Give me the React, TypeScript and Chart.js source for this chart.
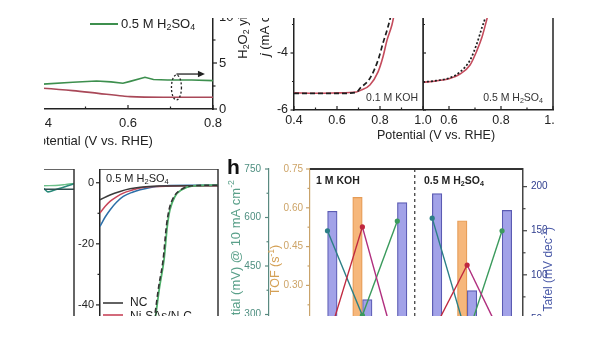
import React, { useEffect, useRef } from "react";
import { Chart, registerables } from "chart.js";

Chart.register(...registerables);

const FONT = '"Liberation Sans", Arial, Helvetica, sans-serif';
Chart.defaults.font.family = FONT;
Chart.defaults.color = "#222";

// ---------- top-left panel: RRDE H2O2 yield (right axis) ----------
const rrdePotentialAcid = [0.3, 0.4, 0.47, 0.526, 0.56, 0.588, 0.605, 0.64, 0.66, 0.693, 0.75, 0.8];
const h2o2YieldAcid = [2.5, 2.7, 2.9, 3.04, 2.95, 2.8, 3.0, 3.45, 3.2, 3.15, 3.15, 3.08];
const rrdePotentialAlk = [0.3, 0.4, 0.47, 0.53, 0.588, 0.605, 0.683, 0.8];
const h2o2YieldAlk = [2.5, 2.25, 2.0, 1.7, 1.41, 1.34, 1.27, 1.27];
const rrdePotentialTicks = [0.2, 0.4, 0.6, 0.8];
const rrdePotentialMinor = [0.3, 0.5, 0.7];
const h2o2Ticks = [0, 5, 10, 15, 20];
const h2o2Minor = [2.5, 7.5, 12.5, 17.5];

// ---------- top-middle: ORR 0.1 M KOH ----------
const orrKohPotentialNi = [0.4, 0.5, 0.6, 0.69, 0.707, 0.753, 0.791, 0.814, 0.833, 0.856, 0.87, 0.89];
const orrKohCurrentNi = [-5.4, -5.41, -5.4, -5.37, -5.32, -5.12, -4.66, -4.13, -3.54, -3.0, -2.5, -1.8];
const orrKohPotentialPt = [0.4, 0.5, 0.6, 0.69, 0.707, 0.753, 0.791, 0.814, 0.833, 0.847, 0.86, 0.88];
const orrKohCurrentPt = [-5.42, -5.42, -5.42, -5.38, -5.24, -4.89, -4.25, -3.65, -3.19, -2.8, -2.3, -1.5];
const orrPotentialTicksB = [0.4, 0.6, 0.8, 1.0];
const orrPotentialMinorB = [0.5, 0.7, 0.9];
const currentTicks = [-6, -4, -2, 0];
const currentMinor = [-5, -3, -1];

// ---------- top-right: ORR 0.5 M H2SO4 ----------
const orrAcidPotentialNi = [0.5, 0.55, 0.6, 0.642, 0.681, 0.708, 0.727, 0.746, 0.76, 0.78];
const orrAcidCurrentNi = [-5.03, -4.98, -4.9, -4.74, -4.42, -3.9, -3.44, -2.8, -2.3, -1.5];
const orrAcidPotentialPt = [0.5, 0.55, 0.6, 0.642, 0.681, 0.708, 0.727, 0.738, 0.75, 0.77];
const orrAcidCurrentPt = [-5.02, -4.97, -4.88, -4.67, -4.25, -3.65, -3.1, -2.8, -2.3, -1.5];
const orrPotentialTicksC = [0.6, 0.8, 1.0];
const orrPotentialMinorC = [0.7, 0.9];

// ---------- bottom-left (cropped) HER panel ----------
const herKohPotentialNC = [-0.3, -0.1, 0];
const herKohCurrentNC = [-2.3, -2.1, -2.1];
const herKohPotentialA = [-0.3, -0.1, -0.085, -0.07, -0.045, -0.02, 0];
const herKohCurrentA = [-6, -1.8, -3.0, -2.6, -1.8, -1.0, -0.3];
const herKohPotentialB = [-0.3, -0.1, -0.06, -0.03, 0];
const herKohCurrentB = [-3, -1.0, -0.9, -0.6, -0.2];

// ---------- bottom: HER 0.5 M H2SO4 ----------
const herAcidPotentialNC = [-0.4, -0.366, -0.332, -0.298, -0.264, -0.2, -0.1, 0];
const herAcidCurrentNC = [-5.6, -4.0, -2.85, -2.0, -1.5, -1.1, -1.0, -1.0];
const herAcidPotentialNi = [-0.4, -0.383, -0.366, -0.344, -0.321, -0.29, -0.264, -0.2, -0.1, 0];
const herAcidCurrentNi = [-9.9, -7.8, -6.1, -4.6, -3.4, -2.4, -1.7, -1.2, -1.0, -1.0];
const herAcidPotentialThird = [-0.4, -0.383, -0.366, -0.344, -0.321, -0.29, -0.264, -0.208, -0.1, 0];
const herAcidCurrentThird = [-14.3, -11.3, -8.9, -6.4, -4.5, -3.1, -2.3, -1.2, -0.8, -0.8];
const herAcidPotentialPt = [-0.24, -0.228, -0.2136, -0.198, -0.183, -0.172, -0.163, -0.146, -0.123, -0.085, 0];
const herAcidCurrentPt = [-58, -52, -44.9, -34, -25.2, -14.3, -8.9, -4.5, -2.3, -1.0, -0.8];
const herAcidPotentialPtRef = [-0.243, -0.231, -0.2166, -0.201, -0.186, -0.175, -0.166, -0.149, -0.126, -0.088, 0];
const herAcidCurrentPtRef = [-58, -52, -44.9, -34, -25.2, -14.3, -8.9, -4.5, -2.3, -1.0, -0.8];
const herCurrentTicks = [0, -20, -40, -60];
const herCurrentMinor = [-10, -30, -50];

// ---------- panel h ----------
const hSamples = ["NC", "Ni-SAs/N-C", "Pt/C", "NC", "Ni-SAs/N-C", "Pt/C"];
const hSlots = [1, 2, 3, 4, 5, 6];
const hTafel = [172, 72, 182, 192, 82, 173];
const hTof = [null, 0.64, null, null, 0.55, null];
const hOverpotential = [559, 297, 589, 598, 230, 559];
const hSecond = [217, 571, 181, 242, 453, 230];
const overTicks = [750, 600, 450, 300, 150];
const overMinor = [675, 525, 375, 225];
const tofTicks = [0.75, 0.6, 0.45, 0.3, 0.15, 0];
const tofMinor = [0.675, 0.525, 0.375, 0.225, 0.075];
const tafelTicks = [200, 150, 100, 50, 0];
const tafelMinor = [175, 125, 75, 25];

// ---------- colours ----------
const GREEN_A = "#3d8f4e";
const RED_A = "#a94858";
const RED_B = "#c44b5c";
const NC_COL = "#3b3b3b";
const NI_COL = "#c8455a";
const BLUE_E = "#2d6fa8";
const PT_COL = "#4fb06a";
const TEAL = "#2b7f86";
const GREEN_F = "#3a9a5c";
const CRIMSON = "#c0283f";
const MAGENTA = "#b02e7e";
const OVER_COL = "#4e8f80";
const TOF_COL = "#cda467";
const TAFEL_COL = "#2f3d8e";

type Box = { x: number; y: number; w: number; h: number };
const BOX_A: Box = { x: -42, y: -75, w: 295, h: 225 };
const BOX_B: Box = { x: 255, y: -61, w: 300, h: 211 };
const BOX_C: Box = { x: 423, y: -61, w: 140, h: 211 };
const BOX_D: Box = { x: -80, y: 169, w: 156, h: 197 };
const BOX_E: Box = { x: 76, y: 169, w: 146, h: 197 };
const BOX_F: Box = { x: 220, y: 150, w: 340, h: 217 };

const xy = (xs: number[], ys: (number | null)[]) => xs.map((x, i) => ({ x, y: ys[i] }));
const f1 = (v: number) => v.toFixed(1);
const f2 = (v: number) => v.toFixed(2);

type Seg = { t: string; s?: "sub" | "sup"; i?: boolean };
function parse(str: string): Seg[] {
  const out: Seg[] = [];
  const re = /_\{([^}]*)\}|\^\{([^}]*)\}|\$([^$]*)\$/g;
  let last = 0;
  let m: RegExpExecArray | null;
  while ((m = re.exec(str))) {
    if (m.index > last) out.push({ t: str.slice(last, m.index) });
    if (m[1] !== undefined) out.push({ t: m[1], s: "sub" });
    else if (m[2] !== undefined) out.push({ t: m[2], s: "sup" });
    else out.push({ t: m[3], i: true });
    last = re.lastIndex;
  }
  if (last < str.length) out.push({ t: str.slice(last) });
  return out;
}

function rich(ctx: CanvasRenderingContext2D, str: string, x: number, y: number, size: number, color: string,
  align: "left" | "center" | "right" = "left", rot = 0, weight = "normal") {
  const segs = parse(str);
  ctx.save();
  ctx.translate(x, y);
  if (rot) ctx.rotate(rot);
  ctx.fillStyle = color;
  ctx.textBaseline = "middle";
  ctx.textAlign = "left";
  const fontFor = (sg: Seg) => `${sg.i ? "italic " : ""}${weight} ${sg.s ? size * 0.68 : size}px ${FONT}`;
  let total = 0;
  const widths = segs.map((sg) => {
    ctx.font = fontFor(sg);
    const w = ctx.measureText(sg.t).width;
    total += w;
    return w;
  });
  let cx = align === "left" ? 0 : align === "center" ? -total / 2 : -total;
  segs.forEach((sg, k) => {
    ctx.font = fontFor(sg);
    const dy = sg.s === "sub" ? size * 0.3 : sg.s === "sup" ? -size * 0.33 : 0;
    ctx.fillText(sg.t, cx, dy);
    cx += widths[k];
  });
  ctx.restore();
}

function seg(ctx: CanvasRenderingContext2D, x1: number, y1: number, x2: number, y2: number, color: string, w: number, dash: number[] = []) {
  ctx.save();
  ctx.strokeStyle = color;
  ctx.lineWidth = w;
  ctx.setLineDash(dash);
  ctx.beginPath();
  ctx.moveTo(x1, y1);
  ctx.lineTo(x2, y2);
  ctx.stroke();
  ctx.restore();
}

const fixSize = (size: number) => (s: any) => {
  if (s.isHorizontal()) s.height = size;
  else s.width = size;
  s.paddingLeft = 0;
  s.paddingRight = 0;
  s.paddingTop = 0;
  s.paddingBottom = 0;
};
const useTicks = (vals: number[]) => (s: any) => {
  s.ticks = vals.map((v) => ({ value: v }));
};

function linAxis(o: {
  min: number; max: number; position: string; size?: number; ticks?: number[]; fmt?: (v: number) => string;
  pad?: number; font?: number; color?: string; border?: string; bw?: number; display?: boolean; weight?: number;
}) {
  return {
    type: "linear",
    position: o.position,
    min: o.min,
    max: o.max,
    display: o.display ?? true,
    weight: o.weight ?? 0,
    offset: false,
    afterFit: fixSize(o.size ?? 0),
    afterBuildTicks: useTicks(o.ticks ?? []),
    ticks: {
      padding: o.pad ?? 4,
      color: o.color ?? "#222",
      font: { size: o.font ?? 12, family: FONT },
      autoSkip: false,
      maxRotation: 0,
      minRotation: 0,
      callback: (v: number) => (o.fmt ? o.fmt(v) : String(v)),
    },
    grid: { display: false, drawTicks: false },
    border: { display: o.border !== "none", color: o.border && o.border !== "none" ? o.border : "#222", width: o.bw ?? 1.5 },
  };
}

type TickSpec = { id: string; major: number[]; minor?: number[]; len?: number; mlen?: number; inward?: boolean; color?: string; lw?: number; at?: "left" | "right" };

function drawTicks(chart: any, specs: TickSpec[]) {
  const ctx = chart.ctx as CanvasRenderingContext2D;
  const ca = chart.chartArea;
  specs.forEach((sp) => {
    const s = chart.scales[sp.id];
    if (!s) return;
    const one = (v: number, len: number) => {
      const p = s.getPixelForValue(v);
      if (s.isHorizontal()) {
        if (p < ca.left - 1 || p > ca.right + 1) return;
        const y0 = ca.bottom;
        seg(ctx, p, y0, p, y0 + (sp.inward ? -len : len), sp.color ?? "#222", sp.lw ?? 1.2);
      } else {
        if (p < ca.top - 1 || p > ca.bottom + 1) return;
        const side = sp.at ?? s.position;
        const x0 = sp.at ? (sp.at === "left" ? ca.left : ca.right) : side === "left" ? s.right : s.left;
        const out = side === "left" ? -1 : 1;
        const d = (sp.inward ? -out : out) * len;
        seg(ctx, x0, p, x0 + d, p, sp.color ?? "#222", sp.lw ?? 1.2);
      }
    };
    sp.major.forEach((v) => one(v, sp.len ?? 4));
    (sp.minor ?? []).forEach((v) => one(v, sp.mlen ?? 2.5));
  });
}

function extras(box: Box, specs: TickSpec[], draw: (chart: any, ctx: CanvasRenderingContext2D, pg: (x: number, y: number) => [number, number]) => void) {
  return {
    id: "extras",
    afterDraw(chart: any) {
      drawTicks(chart, specs);
      const pg = (x: number, y: number): [number, number] => [x - box.x, y - box.y];
      draw(chart, chart.ctx, pg);
    },
  };
}

function baseOptions(scales: any, padding: any = 0) {
  return {
    responsive: false,
    animation: false,
    devicePixelRatio: 1,
    events: [],
    layout: { padding },
    plugins: { legend: { display: false }, tooltip: { enabled: false }, title: { display: false } },
    elements: { point: { radius: 0 } },
    scales,
  };
}

const lineDs = (data: any, color: string, width = 1.6, dash: number[] = [], extra: any = {}) => ({
  type: "line",
  data,
  borderColor: color,
  backgroundColor: color,
  borderWidth: width,
  borderDash: dash,
  pointRadius: 0,
  fill: false,
  cubicInterpolationMode: "monotone",
  ...extra,
});

function makeA() {
  return {
    type: "line",
    data: {
      datasets: [
        lineDs(xy(rrdePotentialAcid, h2o2YieldAcid), GREEN_A, 1.6, [], { cubicInterpolationMode: "default", tension: 0 }),
        lineDs(xy(rrdePotentialAlk, h2o2YieldAlk), RED_A, 1.6),
      ],
    },
    options: baseOptions({
      x: linAxis({ min: 0.2, max: 0.8, position: "bottom", size: 41, ticks: rrdePotentialTicks, fmt: f1, pad: 7, font: 13 }),
      y: linAxis({ min: 0, max: 20, position: "right", size: 40, ticks: h2o2Ticks, pad: 6, font: 13 }),
    }),
    plugins: [
      extras(BOX_A, [
        { id: "x", major: rrdePotentialTicks, minor: rrdePotentialMinor, inward: true },
        { id: "y", major: h2o2Ticks, minor: h2o2Minor },
      ], (chart, ctx, pg) => {
        const sx = chart.scales.x, sy = chart.scales.y;
        const [lx, ly] = pg(90, 24);
        seg(ctx, lx, ly, lx + 28, ly, GREEN_A, 2);
        rich(ctx, "0.5 M H_{2}SO_{4}", lx + 31, ly, 13, "#222");
        const ex = sx.getPixelForValue(0.714), ey = sy.getPixelForValue(2.34);
        ctx.save();
        ctx.setLineDash([2, 2]);
        ctx.strokeStyle = "#222";
        ctx.lineWidth = 1.3;
        ctx.beginPath();
        ctx.ellipse(ex, ey, 5, 12.5, 0, 0, Math.PI * 2);
        ctx.stroke();
        ctx.restore();
        const ax0 = sx.getPixelForValue(0.714), ax1 = sx.getPixelForValue(0.781), ay = sy.getPixelForValue(3.8);
        seg(ctx, ax0, ay, ax1 - 5, ay, "#222", 1.3);
        ctx.save();
        ctx.fillStyle = "#222";
        ctx.beginPath();
        ctx.moveTo(ax1, ay);
        ctx.lineTo(ax1 - 7, ay - 3.2);
        ctx.lineTo(ax1 - 7, ay + 3.2);
        ctx.closePath();
        ctx.fill();
        ctx.restore();
        const [tx, ty] = pg(91.5, 141);
        rich(ctx, "Potential (V vs. RHE)", tx, ty, 13, "#222", "center");
        const [rx, ry] = pg(243, 17);
        rich(ctx, "H_{2}O_{2} yield (%)", rx, ry, 13, "#222", "center", -Math.PI / 2);
      }),
    ],
  };
}

function makeB() {
  return {
    type: "line",
    data: {
      datasets: [
        lineDs(xy(orrKohPotentialPt, orrKohCurrentPt), "#1e1e1e", 1.7, [5, 3]),
        lineDs(xy(orrKohPotentialNi, orrKohCurrentNi), RED_B, 1.6),
      ],
    },
    options: baseOptions({
      x: linAxis({ min: 0.4, max: 1.0, position: "bottom", size: 40, ticks: orrPotentialTicksB, fmt: f1, pad: 3, font: 12.5 }),
      y: linAxis({ min: -6, max: 0, position: "left", size: 39, ticks: currentTicks, pad: 6, font: 12.5 }),
    }, { right: 132 }),
    plugins: [
      extras(BOX_B, [
        { id: "x", major: orrPotentialTicksB, minor: orrPotentialMinorB, inward: true },
        { id: "y", major: currentTicks, minor: currentMinor, len: 3.5, mlen: 2 },
      ], (chart, ctx, pg) => {
        const ca = chart.chartArea;
        seg(ctx, ca.right, ca.top, ca.right, ca.bottom, "#222", 1.5);
        const [yx, yy] = pg(265, 24.5);
        rich(ctx, "$j$ (mA cm^{-2})", yx, yy, 13, "#222", "center", -Math.PI / 2);
        const [tx, ty] = pg(436, 136);
        rich(ctx, "Potential (V vs. RHE)", tx, ty, 12.5, "#222", "center");
        const [kx, ky] = pg(418, 98);
        rich(ctx, "0.1 M KOH", kx, ky, 10.5, "#333", "right");
      }),
    ],
  };
}

function makeC() {
  return {
    type: "line",
    data: {
      datasets: [
        lineDs(xy(orrAcidPotentialPt, orrAcidCurrentPt), "#1e1e1e", 1.7, [2, 2]),
        lineDs(xy(orrAcidPotentialNi, orrAcidCurrentNi), RED_B, 1.6),
      ],
    },
    options: baseOptions({
      x: linAxis({ min: 0.5, max: 1.0, position: "bottom", size: 40, ticks: orrPotentialTicksC, fmt: f1, pad: 3, font: 12.5 }),
      y: linAxis({ min: -6, max: 0, position: "left", display: false }),
    }, { right: 10 }),
    plugins: [
      extras(BOX_C, [
        { id: "x", major: orrPotentialTicksC, minor: orrPotentialMinorC, inward: true },
        { id: "y", major: currentTicks, minor: currentMinor, inward: true, at: "left", len: 3, mlen: 2 },
      ], (chart, ctx, pg) => {
        const ca = chart.chartArea;
        seg(ctx, ca.left, ca.top, ca.left, ca.bottom, "#222", 1.5);
        seg(ctx, ca.right, ca.top, ca.right, ca.bottom, "#222", 1.5);
        const [kx, ky] = pg(543, 98);
        rich(ctx, "0.5 M H_{2}SO_{4}", kx, ky, 10.5, "#333", "right");
      }),
    ],
  };
}

function makeD() {
  return {
    type: "line",
    data: {
      datasets: [
        lineDs(xy(herKohPotentialNC, herKohCurrentNC), "#2f4f4f", 1.5),
        lineDs(xy(herKohPotentialA, herKohCurrentA), "#2a8a7a", 1.6),
        lineDs(xy(herKohPotentialB, herKohCurrentB), "#6cc08a", 1.4),
      ],
    },
    options: baseOptions({
      x: linAxis({ min: -0.5, max: 0, position: "bottom", display: false }),
      y: linAxis({ min: -60, max: 4.5, position: "left", display: false }),
    }, { right: 2 }),
    plugins: [
      extras(BOX_D, [], (chart, ctx) => {
        const ca = chart.chartArea;
        seg(ctx, ca.left, ca.top, ca.right, ca.top, "#333", 1.5);
        seg(ctx, ca.right, ca.top, ca.right, ca.bottom, "#333", 1.5);
      }),
    ],
  };
}

function makeE() {
  return {
    type: "line",
    data: {
      datasets: [
        lineDs(xy(herAcidPotentialPtRef, herAcidCurrentPtRef), "#333", 1.6, [5, 3]),
        lineDs(xy(herAcidPotentialPt, herAcidCurrentPt), PT_COL, 1.8),
        lineDs(xy(herAcidPotentialNC, herAcidCurrentNC), NC_COL, 1.5),
        lineDs(xy(herAcidPotentialNi, herAcidCurrentNi), NI_COL, 1.5),
        lineDs(xy(herAcidPotentialThird, herAcidCurrentThird), BLUE_E, 1.5),
      ],
    },
    options: baseOptions({
      x: linAxis({ min: -0.4, max: 0, position: "bottom", display: false }),
      y: linAxis({ min: -60, max: 4.5, position: "left", size: 24, ticks: herCurrentTicks, pad: 6, font: 11 }),
    }, { right: 4 }),
    plugins: [
      extras(BOX_E, [
        { id: "y", major: herCurrentTicks, minor: herCurrentMinor, len: 4, mlen: 2.5 },
      ], (chart, ctx, pg) => {
        const ca = chart.chartArea;
        seg(ctx, ca.left, ca.top, ca.right, ca.top, "#333", 1.5);
        seg(ctx, ca.right, ca.top, ca.right, ca.bottom, "#333", 1.5);
        const [lx, ly] = pg(106, 179);
        rich(ctx, "0.5 M H_{2}SO_{4}", lx, ly, 11, "#222");
        const [ax, ay] = pg(103, 303);
        seg(ctx, ax, ay, ax + 20, ay, NC_COL, 1.6);
        rich(ctx, "NC", ax + 27, ay, 12, "#222");
        const [bx, by] = pg(103, 315);
        seg(ctx, bx, by, bx + 20, by, NI_COL, 1.6);
        rich(ctx, "Ni-SAs/N-C", bx + 27, by + 2, 12, "#222");
      }),
    ],
  };
}

function makeF() {
  const tafelBars = hSlots.map((s, i) => ({ x: s + 0.14, y: hTafel[i] }));
  const tofBars = hSlots.map((s, i) => ({ x: s - 0.14, y: hTof[i] }));
  return {
    type: "bar",
    data: {
      datasets: [
        {
          type: "line",
          yAxisID: "yOver",
          data: xy(hSlots, hSecond),
          borderWidth: 1.4,
          borderColor: CRIMSON,
          pointRadius: 2.6,
          pointBorderWidth: 0,
          pointBackgroundColor: CRIMSON,
          segment: { borderColor: (c: any) => (c.p0DataIndex === 2 ? "rgba(0,0,0,0)" : c.p0DataIndex % 3 === 0 ? CRIMSON : MAGENTA) },
        },
        {
          type: "line",
          yAxisID: "yOver",
          data: xy(hSlots, hOverpotential),
          borderWidth: 1.4,
          borderColor: TEAL,
          pointRadius: 2.6,
          pointBorderWidth: 0,
          pointBackgroundColor: [TEAL, GREEN_F, GREEN_F, TEAL, GREEN_F, GREEN_F],
          segment: { borderColor: (c: any) => (c.p0DataIndex === 2 ? "rgba(0,0,0,0)" : c.p0DataIndex % 3 === 0 ? TEAL : GREEN_F) },
        },
        {
          type: "bar",
          yAxisID: "yTOF",
          data: tofBars,
          grouped: false,
          barPercentage: 1,
          categoryPercentage: 1,
          maxBarThickness: 9.5,
          backgroundColor: "#f6b77b",
          borderColor: "#e59b55",
          borderWidth: 1.2,
        },
        {
          type: "bar",
          yAxisID: "yTafel",
          data: tafelBars,
          grouped: false,
          barPercentage: 1,
          categoryPercentage: 1,
          maxBarThickness: 9.5,
          backgroundColor: "#a2a2e8",
          borderColor: "#5b5bb3",
          borderWidth: 1.2,
        },
      ],
    },
    options: baseOptions({
      x: linAxis({ min: 0.5, max: 6.6, position: "bottom", display: false }),
      yOver: linAxis({ min: 150, max: 750, position: "left", weight: 1, size: 49, ticks: overTicks, pad: 8, font: 10, color: OVER_COL, border: "#5a8a80", bw: 1.2 }),
      yTOF: linAxis({ min: 0, max: 0.75, position: "left", weight: 0, size: 41, ticks: tofTicks, fmt: f2, pad: 7, font: 10, color: TOF_COL, border: "#c9a36b", bw: 1.2 }),
      yTafel: linAxis({ min: 0, max: 220, position: "right", size: 37, ticks: tafelTicks, pad: 8, font: 10, color: TAFEL_COL, border: "#444", bw: 1.5 }),
    }, { top: 19 }),
    plugins: [
      extras(BOX_F, [
        { id: "yOver", major: overTicks, minor: overMinor, color: "#5a8a80", len: 4, mlen: 2.5 },
        { id: "yTOF", major: tofTicks, minor: tofMinor, color: "#c9a36b", len: 4, mlen: 2.5 },
        { id: "yTafel", major: tafelTicks, minor: tafelMinor, color: "#444", len: 4, mlen: 2.5 },
      ], (chart, ctx, pg) => {
        const ca = chart.chartArea;
        seg(ctx, ca.left, ca.top, ca.right, ca.top, "#333", 1.8);
        const sx = chart.scales.x;
        const dx = sx.getPixelForValue(3.5);
        seg(ctx, dx, ca.top, dx, ca.bottom, "#333", 1.2, [3, 3]);
        const [hx, hy] = pg(227, 168);
        rich(ctx, "h", hx, hy, 21, "#111", "left", 0, "bold");
        const [k1x, k1y] = pg(316, 181);
        rich(ctx, "1 M KOH", k1x, k1y, 10.5, "#222", "left", 0, "bold");
        const [k2x, k2y] = pg(424, 181);
        rich(ctx, "0.5 M H_{2}SO_{4}", k2x, k2y, 10.5, "#222", "left", 0, "bold");
        const [ox, oy] = pg(236, 180);
        rich(ctx, "Overpotential (mV) @ 10 mA cm^{-2}", ox, oy, 13, "#5aa08a", "right", -Math.PI / 2);
        const [qx, qy] = pg(276, 270);
        rich(ctx, "TOF (s^{-1})", qx, qy, 12.5, "#d4a055", "center", -Math.PI / 2);
        const [px, py] = pg(549, 227);
        rich(ctx, "Tafel (mV dec^{-1})", px, py, 12, "#4a5aa8", "right", -Math.PI / 2);
      }),
    ],
  };
}

function ChartBox({ box, make }: { box: Box; make: () => any }) {
  const ref = useRef<HTMLCanvasElement | null>(null);
  useEffect(() => {
    if (!ref.current) return;
    const chart = new Chart(ref.current, make());
    return () => chart.destroy();
  }, []);
  return (
    <canvas
      ref={ref}
      width={box.w}
      height={box.h}
      style={{ position: "absolute", left: box.x, top: box.y, width: box.w, height: box.h }}
    />
  );
}

export default function App() {
  return (
    <div style={{ position: "fixed", left: 0, top: 0, width: 600, height: 338, background: "#fff", overflow: "hidden" }}>
      <div style={{ position: "absolute", left: 44, top: 18, width: 511, height: 298, overflow: "hidden" }}>
        <div style={{ position: "absolute", left: -44, top: -18, width: 600, height: 338 }}>
          <ChartBox box={BOX_A} make={makeA} />
          <ChartBox box={BOX_B} make={makeB} />
          <ChartBox box={BOX_C} make={makeC} />
          <ChartBox box={BOX_D} make={makeD} />
          <ChartBox box={BOX_E} make={makeE} />
          <ChartBox box={BOX_F} make={makeF} />
        </div>
      </div>
    </div>
  );
}
